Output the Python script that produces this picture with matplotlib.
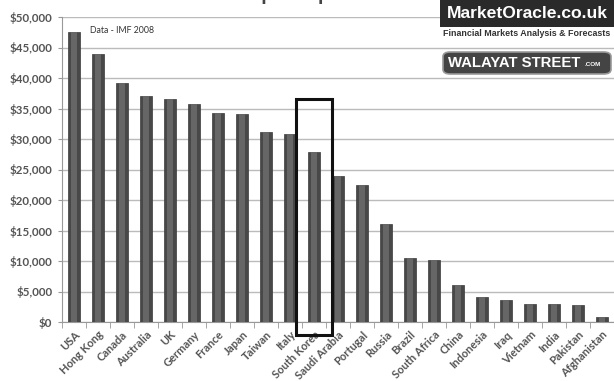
import matplotlib.pyplot as plt
from matplotlib.patches import Rectangle, FancyBboxPatch
import numpy as np

countries = ["USA", "Hong Kong", "Canada", "Australia", "UK", "Germany", "France",
             "Japan", "Taiwan", "Italy", "South Korea", "Saudi Arabia", "Portugal",
             "Russia", "Brazil", "South Africa", "China", "Indonesia", "Iraq",
             "Vietnam", "India", "Pakistan", "Afghanistan"]
gdp_per_capita = [47500, 44000, 39200, 37000, 36500, 35700, 34300,
                  34100, 31100, 30800, 27900, 23900, 22400,
                  16100, 10500, 10200, 6000, 4100, 3600,
                  2900, 2900, 2800, 800]
y_ticks = [0, 5000, 10000, 15000, 20000, 25000, 30000, 35000, 40000, 45000, 50000]
highlight = "South Korea"

plt.rcParams["font.family"] = ["Lato", "DejaVu Sans"]

fig = plt.figure(figsize=(6.14, 3.81), dpi=100)
ax = fig.add_axes([62 / 614, 1 - 322 / 381, 552 / 614, 305 / 381])

x = np.arange(len(countries))
ax.bar(x, gdp_per_capita, width=0.48, color="#484848", edgecolor="#3a3a3a", linewidth=0.5, zorder=3)
ax.bar(x, gdp_per_capita, width=0.22, color="#666666", linewidth=0, zorder=4)

ax.set_xlim(-0.5, len(countries) - 0.5)
ax.set_ylim(0, 50000)
ax.set_yticks(y_ticks)
ax.set_yticklabels(["${:,}".format(v) for v in y_ticks], fontsize=8.3, fontweight="bold", color="#555555")
ax.set_xticks(x)
ax.set_xticklabels(countries, rotation=45, ha="right", rotation_mode="anchor",
                   fontsize=8, fontweight="bold", color="#555555")
ax.set_xticks(np.arange(-0.5, len(countries), 1), minor=True)
ax.tick_params(axis="x", which="major", length=0, pad=5)
ax.tick_params(axis="x", which="minor", length=4, color="#999999")
ax.tick_params(axis="y", length=3, color="#999999", pad=4)

ax.grid(axis="y", color="#bbbbbb", linewidth=1, zorder=0)
for side in ["top", "right"]:
    ax.spines[side].set_visible(False)
ax.spines["left"].set_color("#999999")
ax.spines["bottom"].set_color("#999999")

ax.text(0.05, 0.97, "Data - IMF 2008", transform=ax.transAxes, fontsize=6.3, color="#333333", va="top")

# highlight box around the chosen country
i = countries.index(highlight)
ax.add_patch(Rectangle((i - 0.73, -2150), 1.46, 38700, fill=False, edgecolor="#111111",
                       linewidth=2.2, clip_on=False, zorder=6))

# title, cropped at the top of the picture
fig.text(42 / 614, 1.016, "World Economies GDP per capita", fontsize=15, fontweight="bold",
         color="#444444", va="center", ha="left")

# logos
fig.patches.append(Rectangle((440 / 614, 1 - 27 / 381), 174 / 614, 27 / 381,
                             transform=fig.transFigure, facecolor="#2a2a2a", edgecolor="none"))
fig.text(447 / 614, 1 - 13 / 381, "MarketOracle.co.uk", fontsize=12.6, fontweight="bold",
         family="Liberation Sans", color="white", va="center", ha="left")
fig.text(443 / 614, 1 - 33 / 381, "Financial Markets Analysis & Forecasts", fontsize=6.4,
         fontweight="bold", family="Liberation Sans", color="#333333", va="center", ha="left")
fig.patches.append(FancyBboxPatch((443 / 614, 1 - 74 / 381), 168 / 614, 22 / 381,
                                  boxstyle="round,pad=0,rounding_size=0.012",
                                  transform=fig.transFigure, facecolor="#444444",
                                  edgecolor="#999999", linewidth=1.2))
fig.text(448 / 614, 1 - 63 / 381, "WALAYAT STREET", fontsize=10.7, fontweight="bold",
         family="Liberation Sans", color="white", va="center", ha="left")
fig.text(585 / 614, 1 - 64 / 381, ".COM", fontsize=4.5, fontweight="bold",
         family="Liberation Sans", color="white", va="center", ha="left")

fig.savefig("out.png", dpi=100)
